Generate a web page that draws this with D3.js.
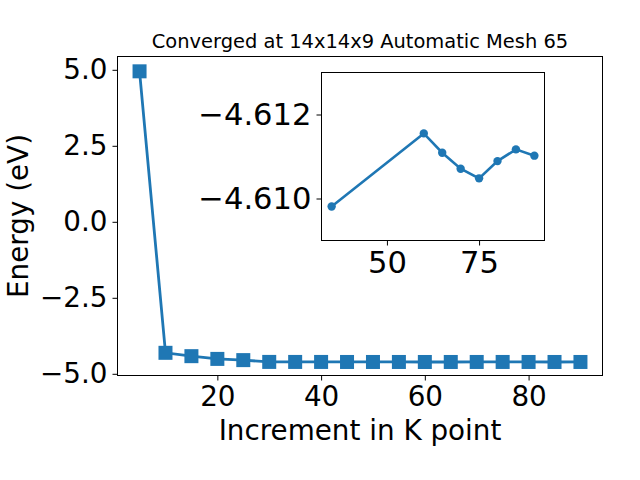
<!DOCTYPE html>
<html><head><meta charset="utf-8">
<script src="https://cdn.jsdelivr.net/npm/d3@7"></script>
<style>
body{margin:0;background:#fff;}
svg{display:block;font-family:"DejaVu Sans",sans-serif;}
</style></head>
<body>
<svg id="c" width="640" height="480"></svg>
<script>
const kpoints = [5,10,15,20,25,30,35,40,45,50,55,60,65,70,75,80,85,90];
const energy = [4.95,-4.31,-4.42,-4.51,-4.55,-4.609,-4.6098,-4.610,-4.611,-4.611,-4.611,-4.6115,-4.6111,-4.6107,-4.6105,-4.6109,-4.6112,-4.6110];
const insetK = [35,60,65,70,75,80,85,90];
const insetE = [-4.60981,-4.61155,-4.61109,-4.61071,-4.61048,-4.61089,-4.61117,-4.61102];
const xTicks = [20,40,60,80];
const yTicks = [-5,-2.5,0,2.5,5];
const insetXTicks = [50,75];
const insetYTicks = [-4.612,-4.610];
const titleText = "Converged at 14x14x9 Automatic Mesh 65";
const xLabel = "Increment in K point";
const yLabel = "Energy (eV)";

const color = "#1f77b4";
const FS = 27.8;
const FSI = 30.6;
const svg = d3.select("#c");
const fmt = (d,p) => d3.format("."+p+"f")(d).replace("-","\u2212");

// main axes
const M = {l:117.5, r:602.5, t:56.5, b:375.5};
const x = d3.scaleLinear().domain([0.75,94.25]).range([M.l,M.r]);
const y = d3.scaleLinear().domain([-5.056,5.4375]).range([M.b,M.t]);

function styleAxis(g, fs){
  g.select(".domain").remove();
  g.selectAll("text").attr("font-size",fs).attr("fill","#000").attr("font-family","DejaVu Sans");
  g.selectAll("line").attr("stroke","#000").attr("stroke-width",1);
}
const gx = svg.append("g").attr("transform",`translate(0,${M.b})`)
  .call(d3.axisBottom(x).tickValues(xTicks).tickSize(5).tickPadding(5).tickFormat(d=>fmt(d,0)));
const gy = svg.append("g").attr("transform",`translate(${M.l},0)`)
  .call(d3.axisLeft(y).tickValues(yTicks).tickSize(5).tickPadding(5).tickFormat(d=>fmt(d,1)));
styleAxis(gx,FS); styleAxis(gy,FS);
gx.selectAll("text").attr("dy","0.72em");

const line = d3.line().x((d,i)=>x(kpoints[i])).y(d=>y(d));
svg.append("path").datum(energy).attr("d",line).attr("fill","none").attr("stroke",color).attr("stroke-width",2.8);
svg.append("g").selectAll("rect").data(energy).join("rect")
  .attr("x",(d,i)=>x(kpoints[i])-7).attr("y",d=>y(d)-7).attr("width",14).attr("height",14)
  .attr("fill",color);
svg.append("rect").attr("x",M.l).attr("y",M.t).attr("width",M.r-M.l).attr("height",M.b-M.t)
  .attr("fill","none").attr("stroke","#000").attr("stroke-width",1);

svg.append("text").attr("x",(M.l+M.r)/2).attr("y",48).attr("text-anchor","middle")
  .attr("font-size",19.44).text(titleText);
svg.append("text").attr("x",(M.l+M.r)/2).attr("y",440).attr("text-anchor","middle")
  .attr("font-size",FS).text(xLabel);
svg.append("text").attr("transform",`translate(28,${(M.t+M.b)/2}) rotate(-90)`).attr("text-anchor","middle")
  .attr("font-size",FS).text(yLabel);

// inset
const I = {l:321.5, r:544.5, t:72.5, b:240.5};
const xi = d3.scaleLinear().domain([32.25,92.75]).range([I.l,I.r]);
const yi = d3.scaleLinear().domain([-4.609,-4.613]).range([I.b,I.t]);
svg.append("rect").attr("x",I.l).attr("y",I.t).attr("width",I.r-I.l).attr("height",I.b-I.t)
  .attr("fill","#fff").attr("stroke","none");
const gxi = svg.append("g").attr("transform",`translate(0,${I.b})`)
  .call(d3.axisBottom(xi).tickValues(insetXTicks).tickSize(5).tickPadding(5).tickFormat(d=>fmt(d,0)));
const gyi = svg.append("g").attr("transform",`translate(${I.l},0)`)
  .call(d3.axisLeft(yi).tickValues(insetYTicks).tickSize(5).tickPadding(5).tickFormat(d=>fmt(d,3)));
styleAxis(gxi,FSI); styleAxis(gyi,FSI);
gxi.selectAll("text").attr("dy","0.72em");
const lineI = d3.line().x((d,i)=>xi(insetK[i])).y(d=>yi(d));
svg.append("path").datum(insetE).attr("d",lineI).attr("fill","none").attr("stroke",color).attr("stroke-width",2.6);
svg.append("g").selectAll("circle").data(insetE).join("circle")
  .attr("cx",(d,i)=>xi(insetK[i])).attr("cy",d=>yi(d)).attr("r",4.2).attr("fill",color);
svg.append("rect").attr("x",I.l).attr("y",I.t).attr("width",I.r-I.l).attr("height",I.b-I.t)
  .attr("fill","none").attr("stroke","#000").attr("stroke-width",1);
</script>
</body></html>
